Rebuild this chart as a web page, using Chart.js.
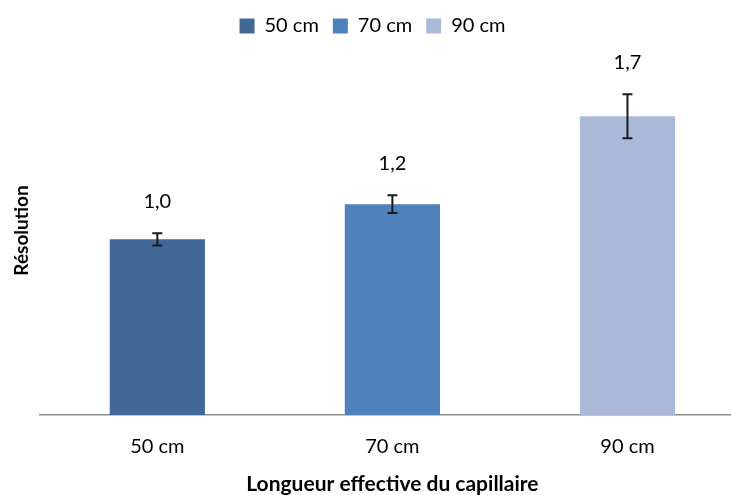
<!DOCTYPE html>
<html>
<head>
<meta charset="utf-8">
<script src="https://cdn.jsdelivr.net/npm/chart.js@4"></script>
<style>
  html, body { margin: 0; padding: 0; background: #fff; overflow: hidden; }
  #wrap { width: 745px; height: 495px; }
</style>
</head>
<body>
<div id="wrap"><canvas id="chart"></canvas></div>
<script>
const categories = ['50 cm', '70 cm', '90 cm'];
const seriesNames = ['50 cm', '70 cm', '90 cm'];
const resolution = [1.0, 1.2, 1.7];
const errors = [0.035, 0.05, 0.125];
const valueLabels = ['1,0', '1,2', '1,7'];
const colors = ['#416897', '#4F81BD', '#AAB9D8'];
const xTitle = 'Longueur effective du capillaire';

const FONT = 'Lato, "Open Sans", sans-serif';

// each series holds one bar in its own category
const datasets = seriesNames.map((name, i) => ({
    label: name,
    data: categories.map((c, j) => (j === i ? resolution[i] : null)),
    backgroundColor: colors[i],
    borderWidth: 0,
    categoryPercentage: 1,
    barPercentage: 0.405,
    skipNull: true
}));

// error bars, value labels above them, and the x axis title
const errorBars = {
    id: 'errorBars',
    afterDatasetsDraw(chart) {
        const ctx = chart.ctx;
        const y = chart.scales.y;
        ctx.save();
        chart.data.datasets.forEach((ds, i) => {
            const bar = chart.getDatasetMeta(i).data[i];
            if (!bar) return;
            const x = bar.x;
            const top = y.getPixelForValue(resolution[i] + errors[i]);
            const bot = y.getPixelForValue(resolution[i] - errors[i]);
            ctx.strokeStyle = '#1a1a1a';
            ctx.lineWidth = 2;
            ctx.beginPath();
            ctx.moveTo(x, top); ctx.lineTo(x, bot);
            ctx.moveTo(x - 5, top); ctx.lineTo(x + 5, top);
            ctx.moveTo(x - 5, bot); ctx.lineTo(x + 5, bot);
            ctx.stroke();
            ctx.fillStyle = '#000';
            ctx.font = '20px ' + FONT;
            ctx.textAlign = 'center';
            ctx.textBaseline = 'middle';
            ctx.fillText(valueLabels[i], x, top - 32);
        });
        const area = chart.chartArea;
        ctx.font = 'bold 21px ' + FONT;
        ctx.textAlign = 'center';
        ctx.textBaseline = 'alphabetic';
        ctx.fillText(xTitle, (area.left + area.right) / 2, 491);
        ctx.restore();
    }
};

new Chart(document.getElementById('chart'), {
    type: 'bar',
    data: { labels: categories, datasets },
    options: {
        responsive: true,
        maintainAspectRatio: false,
        animation: false,
        layout: { padding: { left: 0, right: 0, top: 2, bottom: 16 } },
        plugins: {
            legend: {
                position: 'top',
                labels: {
                    boxWidth: 15,
                    boxHeight: 15,
                    padding: 14,
                    color: '#000',
                    font: { family: FONT, size: 20 }
                }
            },
            tooltip: { enabled: false }
        },
        scales: {
            x: {
                grid: { display: false, drawTicks: false },
                border: { display: true, color: '#8c8c8c', width: 1.5 },
                ticks: { color: '#000', padding: 20, font: { family: FONT, size: 20 } }
            },
            y: {
                min: 0,
                max: 2.1,
                grid: { display: false, drawTicks: false },
                border: { display: false },
                ticks: { display: false },
                title: {
                    display: true,
                    text: 'Résolution',
                    color: '#000',
                    padding: { top: 10, bottom: 7 },
                    font: { family: FONT, size: 19, weight: 'bold' }
                }
            }
        }
    },
    plugins: [errorBars]
});
</script>
</body>
</html>
